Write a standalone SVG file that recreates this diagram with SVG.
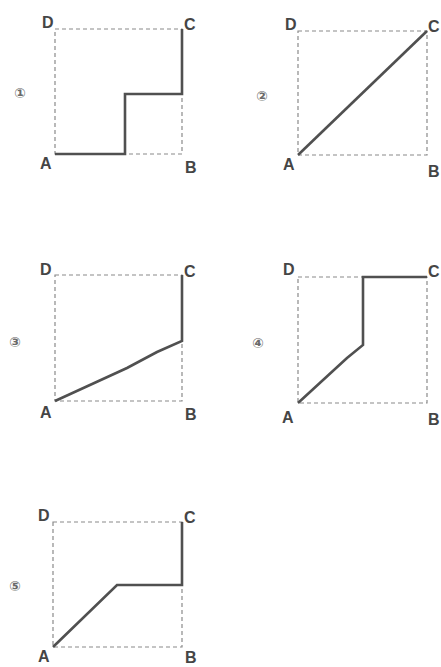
<svg xmlns="http://www.w3.org/2000/svg" width="441" height="667" viewBox="0 0 441 667">
<style>
.frame{fill:none;stroke:#8a8a8a;stroke-width:1.2;stroke-dasharray:4 3}
.path{fill:none;stroke:#505050;stroke-width:2.6;stroke-linejoin:miter}
.lbl{font-family:"Liberation Sans",Arial,sans-serif;font-size:16px;font-weight:bold;fill:#454545}
.num{font-family:"DejaVu Sans",sans-serif;font-size:14px;font-weight:bold;fill:#6a6a6a;text-anchor:middle}
</style>
<rect width="441" height="667" fill="#ffffff"/>
<g id="panel1">
<rect class="frame" x="55" y="29" width="127" height="125"/>
<text class="num" x="20" y="98">①</text>
<text class="lbl" x="42" y="28">D</text>
<text class="lbl" x="184" y="30">C</text>
<text class="lbl" x="40" y="169">A</text>
<text class="lbl" x="185" y="173">B</text>
</g>
<g id="panel2">
<rect class="frame" x="298" y="31" width="129" height="124"/>
<text class="num" x="262" y="101">②</text>
<text class="lbl" x="285" y="30">D</text>
<text class="lbl" x="428" y="32">C</text>
<text class="lbl" x="283" y="170">A</text>
<text class="lbl" x="428" y="177">B</text>
</g>
<g id="panel3">
<rect class="frame" x="55" y="275" width="127" height="126"/>
<text class="num" x="15" y="347">③</text>
<text class="lbl" x="40" y="275">D</text>
<text class="lbl" x="184" y="277">C</text>
<text class="lbl" x="40" y="418">A</text>
<text class="lbl" x="185" y="420">B</text>
</g>
<g id="panel4">
<rect class="frame" x="298" y="277" width="129" height="126"/>
<text class="num" x="258" y="348">④</text>
<text class="lbl" x="283" y="275">D</text>
<text class="lbl" x="428" y="277">C</text>
<text class="lbl" x="282" y="423">A</text>
<text class="lbl" x="428" y="425">B</text>
</g>
<g id="panel5">
<rect class="frame" x="53" y="522" width="129" height="125"/>
<text class="num" x="15" y="591">⑤</text>
<text class="lbl" x="38" y="521">D</text>
<text class="lbl" x="184" y="523">C</text>
<text class="lbl" x="38" y="662">A</text>
<text class="lbl" x="185" y="663">B</text>
</g>
<g id="connectors">
<polyline class="path" points="55,154 125,154 125,94 182,94 182,29"/>
<polyline class="path" points="298,155 427,31"/>
<polyline class="path" points="55,401 127,368 157,352 182,341 182,275"/>
<polyline class="path" points="298,403 347,358 363,345 363,277 427,277"/>
<polyline class="path" points="53,647 117,585 182,585 182,522"/>
</g>
</svg>
